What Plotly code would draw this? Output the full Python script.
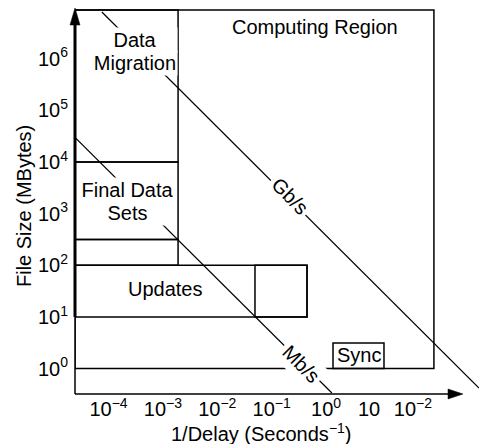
import plotly.graph_objects as go

# ---------------- data ----------------
# regions: (1/delay range in s^-1, file size range in MBytes)
region_names = ["Computing Region", "Data Migration", "Final Data Sets",
                "Final Data Sets (lower)", "Updates", "Updates (fast)", "Sync"]
region_x0 = [2.42e-5, 2.42e-5, 2.42e-5, 2.42e-5, 2.42e-5, 0.0493, 1.34]
region_x1 = [96.0, 1.9e-3, 1.9e-3, 1.9e-3, 0.446, 0.446, 11.6]
region_y0 = [1.0, 1e4, 316.0, 100.0, 10.0, 10.0, 1.0]
region_y1 = [8.85e6, 8.85e6, 1e4, 316.0, 100.0, 100.0, 3.12]

# constant transfer-rate lines
mbs_x = [2.42e-5, 1.28]
mbs_y = [3.0e4, 0.336]
gbs_x = [7.55e-5, 647.0]
gbs_y = [8.11e6, 0.419]

# ticks
x_tickvals = [1e-4, 1e-3, 1e-2, 1e-1, 1.0, 6.15, 39.5]
x_ticktext = ["10<sup>\u22124</sup>", "10<sup>\u22123</sup>", "10<sup>\u22122</sup>",
              "10<sup>\u22121</sup>", "10<sup>0</sup>", "10", "10<sup>\u22122</sup>"]
y_tickvals = [1e0, 1e1, 1e2, 1e3, 1e4, 1e5, 1e6]
y_ticktext = ["10<sup>%d</sup>" % k for k in range(7)]

FONT = "Liberation Sans, Arial, Helvetica, sans-serif"
FS = 20

fig = go.Figure()

fig.add_trace(go.Scatter(x=mbs_x, y=mbs_y, mode="lines",
                         line=dict(color="black", width=1.2), hoverinfo="skip"))
fig.add_trace(go.Scatter(x=gbs_x, y=gbs_y, mode="lines",
                         line=dict(color="black", width=1.2), hoverinfo="skip"))

shapes = []
for x0, x1, y0, y1 in zip(region_x0, region_x1, region_y0, region_y1):
    shapes.append(dict(type="rect", xref="x", yref="y", x0=x0, x1=x1, y0=y0, y1=y1,
                       line=dict(color="black", width=1.5), layer="above"))

# axes drawn as arrows
shapes.append(dict(type="line", xref="paper", yref="paper", x0=0, x1=0,
                   y0=(394 - 317) / 394, y1=(394 - 20) / 394,
                   line=dict(color="black", width=3)))
shapes.append(dict(type="line", xref="paper", yref="paper", x0=0, x1=0,
                   y0=0, y1=(394 - 317) / 394,
                   line=dict(color="black", width=1.5)))
shapes.append(dict(type="path", xref="paper", yref="paper",
                   xsizemode="pixel", ysizemode="pixel",
                   xanchor=0, yanchor=(394 - 8) / 394,
                   path="M0,0 L-5,-17 L5,-17 Z", fillcolor="black",
                   line=dict(color="black", width=0.5)))
shapes.append(dict(type="line", xref="paper", yref="paper", x0=0, x1=(450 - 75) / 404,
                   y0=0, y1=0, line=dict(color="black", width=1.5)))
shapes.append(dict(type="path", xref="paper", yref="paper",
                   xsizemode="pixel", ysizemode="pixel",
                   xanchor=(463 - 75) / 404, yanchor=0,
                   path="M0,0 L-15,5 L-15,-5 Z", fillcolor="black",
                   line=dict(color="black", width=0.5)))

def ann(text, lx, ly, width=None, angle=0, bg=None, pad=1):
    d = dict(text=text, x=lx, y=ly, xref="x", yref="y", showarrow=False,
             xanchor="center", yanchor="middle", textangle=angle,
             font=dict(family=FONT, size=FS, color="black"), borderpad=pad)
    if width:
        d["width"] = width
    if bg:
        d["bgcolor"] = bg
    return d

annotations = [
    ann("Computing Region", -0.204, 6.618),
    ann("Data", -3.513, 6.366, width=82, bg="white"),
    ann("Migration", -3.513, 5.921, width=82, bg="white"),
    ann("Final Data", -3.651, 3.459, width=95, bg="white"),
    ann("Sets", -3.651, 3.004, width=95, bg="white"),
    ann("Updates", -2.961, 1.541),
    ann("Sync", 0.605, 0.262),
    ann("Gb/s", -0.664, 3.343, angle=45, bg="white", pad=3),
    ann("Mb/s", -0.452, 0.097, angle=45, bg="white", pad=3),
    dict(text="1/Delay (Seconds<sup>\u22121</sup>)", x=(261 - 75) / 404, y=(394 - 432) / 394,
         xref="paper", yref="paper", showarrow=False, xanchor="center", yanchor="middle",
         font=dict(family=FONT, size=FS, color="black")),
    dict(text="File Size (MBytes)", x=(24 - 75) / 404, y=(394 - 206) / 394,
         xref="paper", yref="paper", showarrow=False, xanchor="center", yanchor="middle",
         textangle=-90, font=dict(family=FONT, size=FS, color="black")),
]

fig.update_layout(
    template="none",
    width=479, height=444,
    margin=dict(l=75, r=0, t=0, b=50, pad=0),
    paper_bgcolor="white", plot_bgcolor="white",
    showlegend=False,
    font=dict(family=FONT, size=FS, color="black"),
    shapes=shapes, annotations=annotations,
    xaxis=dict(type="log", range=[-4.616, 2.811], tickvals=x_tickvals, ticktext=x_ticktext,
               showgrid=False, zeroline=False, showline=False, ticks="", automargin=False,
               ticklabelstandoff=1,
               tickfont=dict(family=FONT, size=FS, color="black")),
    yaxis=dict(type="log", range=[-0.494, 7.141], tickvals=y_tickvals, ticktext=y_ticktext,
               showgrid=False, zeroline=False, showline=False, ticks="", automargin=False,
               ticklabelstandoff=6,
               tickfont=dict(family=FONT, size=FS, color="black")),
)

fig.write_html("out.html", config={"displayModeBar": False},
               post_script="document.body.style.margin='0px';")
